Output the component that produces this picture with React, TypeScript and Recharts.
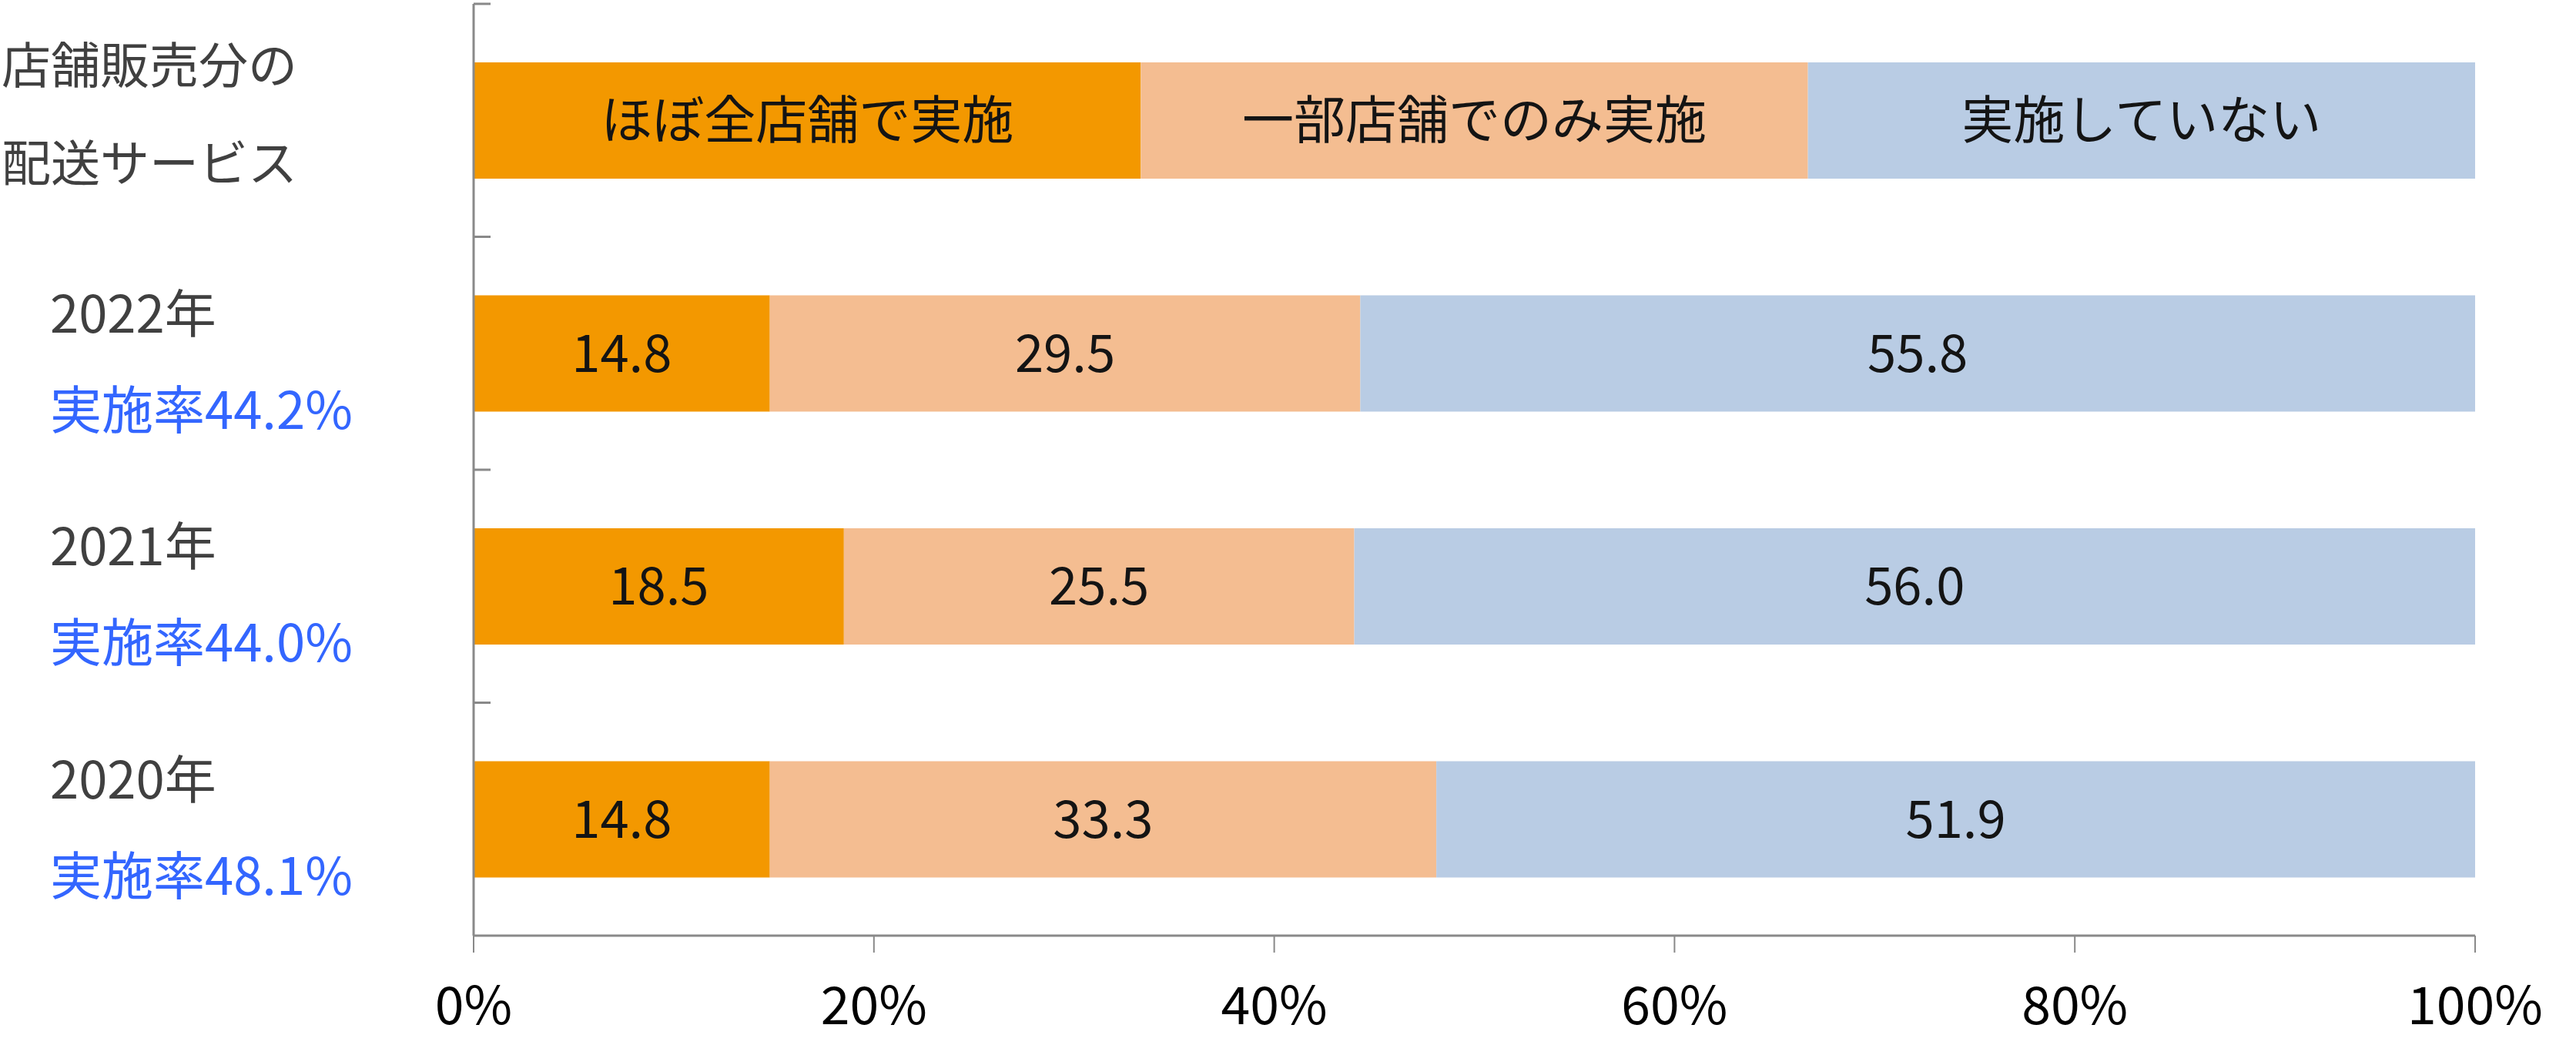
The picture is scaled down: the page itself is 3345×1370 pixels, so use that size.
import { BarChart, Bar, XAxis, YAxis, LabelList } from 'recharts';

const FONT = '"Noto Sans CJK JP", "Noto Sans", sans-serif';
const AXIS_GRAY = '#898989';
const AXIS_X = 615;

const seriesNames = ['ほぼ全店舗で実施', '一部店舗でのみ実施', '実施していない'];
const seriesColors = ['#F39800', '#F4BD91', '#B9CCE4'];
const headerLines = ['店舗販売分の', '配送サービス'];
const years = ['2022年', '2021年', '2020年'];
const rates = ['実施率44.2%', '実施率44.0%', '実施率48.1%'];
const allStores = [14.8, 18.5, 14.8];
const someStores = [29.5, 25.5, 33.3];
const notDone = [55.8, 56.0, 51.9];
const xTicks = [0, 20, 40, 60, 80, 100];

// first row acts as the legend: three equal parts labelled with series names
const data = [
  {
    cat: 'header',
    s0: 100 / 3, s1: 100 / 3, s2: 100 / 3,
    l0: seriesNames[0], l1: seriesNames[1], l2: seriesNames[2],
  },
  ...years.map((y, i) => ({
    cat: y,
    s0: allStores[i], s1: someStores[i], s2: notDone[i],
    l0: allStores[i].toFixed(1), l1: someStores[i].toFixed(1), l2: notDone[i].toFixed(1),
  })),
];

// category label + small tick mark at the top edge of each band
const YTick = (props: any) => {
  const { y, payload, index } = props;
  const half = payload && typeof payload.offset === 'number' ? payload.offset : 151;
  const mark = (
    <line x1={AXIS_X} x2={AXIS_X + 22} y1={y - half} y2={y - half} stroke={AXIS_GRAY} strokeWidth={3} />
  );
  if (index === 0) {
    return (
      <g>
        {mark}
        <text fontSize={64} fontFamily={FONT} fill="#404040">
          <tspan x={2} y={y - 48}>{headerLines[0]}</tspan>
          <tspan x={2} y={y + 79}>{headerLines[1]}</tspan>
        </text>
      </g>
    );
  }
  return (
    <g>
      {mark}
      <text x={65} y={y - 27} fontSize={67} fontFamily={FONT} fill="#404040">{years[index - 1]}</text>
      <text x={65} y={y + 98} fontSize={67} fontFamily={FONT} fill="#3366FF">{rates[index - 1]}</text>
    </g>
  );
};

export default function App() {
  return (
    <div style={{ position: 'absolute', left: 0, top: 0, background: '#fff' }}>
      <BarChart
        width={3345}
        height={1370}
        data={data}
        layout="vertical"
        margin={{ top: 5, right: 131, bottom: 0, left: 0 }}
      >
        <XAxis
          type="number"
          domain={[0, 100]}
          allowDataOverflow
          ticks={xTicks}
          tickFormatter={(v) => `${v}%`}
          height={155}
          tickSize={22}
          tickMargin={45}
          axisLine={{ stroke: AXIS_GRAY, strokeWidth: 3 }}
          tickLine={{ stroke: AXIS_GRAY, strokeWidth: 2 }}
          tick={{ fill: '#000', fontSize: 68, fontFamily: FONT }}
        />
        <YAxis
          type="category"
          dataKey="cat"
          width={615}
          interval={0}
          tickLine={false}
          axisLine={{ stroke: AXIS_GRAY, strokeWidth: 3 }}
          tick={<YTick />}
        />
        {['s0', 's1', 's2'].map((key, i) => (
          <Bar
            key={key}
            dataKey={key}
            name={seriesNames[i]}
            stackId="a"
            fill={seriesColors[i]}
            barSize={151}
            isAnimationActive={false}
          >
            <LabelList
              dataKey={`l${i}`}
              position="center"
              fill="#141414"
              fontSize={67}
              fontFamily={FONT}
            />
          </Bar>
        ))}
      </BarChart>
    </div>
  );
}
